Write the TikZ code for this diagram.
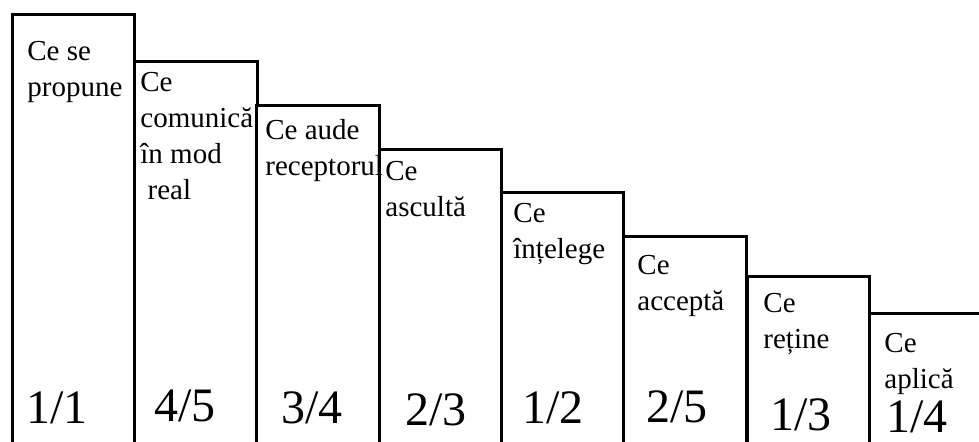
\documentclass[tikz,border=0pt]{standalone}
\usepackage{fontspec}
\setmainfont{Liberation Serif}
\usetikzlibrary{positioning}

\begin{document}
\begin{tikzpicture}[
    x=0.5pt,
    y=0.5pt,
    bar/.style={draw, line width=1.5pt, fill=white},
    what/.style={align=left, inner sep=0, anchor=north west,
                 font=\fontsize{14.5}{18}\selectfont},
    ratio/.style={inner sep=0, anchor=base, font=\fontsize{24}{24}\selectfont},
]

    \useasboundingbox (0,0) rectangle (979,441);
    \clip (0,0) rectangle (979,441);

    % steps, left to right (x of left side / y of top, from the top edge)
    \foreach \x/\t in {12/14, 134.5/61, 256.5/105, 379/149,
                       501/192, 623.5/236, 747/276, 869/313}
        \draw[bar] (\x,-10) rectangle ++(122.5,451-\t);

    \node[what] (A) at (27,441-41)  {Ce se\\propune};
    \node[what] (B) at (140,441-72) {Ce\\comunică\\în mod\\~real};
    \node[what] (C) at (265,441-119) {Ce aude\\receptorul};
    \node[what] (D) at (385,441-161) {Ce\\ascultă};
    \node[what] (E) at (513,441-203) {Ce\\înțelege};
    \node[what] (F) at (637,441-255) {Ce\\acceptă};
    \node[what] (G) at (763,441-293) {Ce\\reține};
    \node[what] (H) at (884,441-333) {Ce\\aplică};

    \node[ratio] (a) at (57,441-423)  {1/1};
    \node[ratio] (b) at (185,441-421) {4/5};
    \node[ratio] (c) at (312,441-423) {3/4};
    \node[ratio] (d) at (436,441-425) {2/3};
    \node[ratio] (e) at (553,441-423) {1/2};
    \node[ratio] (f) at (677,441-422) {2/5};
    \node[ratio] (g) at (801,441-430) {1/3};
    \node[ratio] (h) at (917,441-432) {1/4};
\end{tikzpicture}
\end{document}
